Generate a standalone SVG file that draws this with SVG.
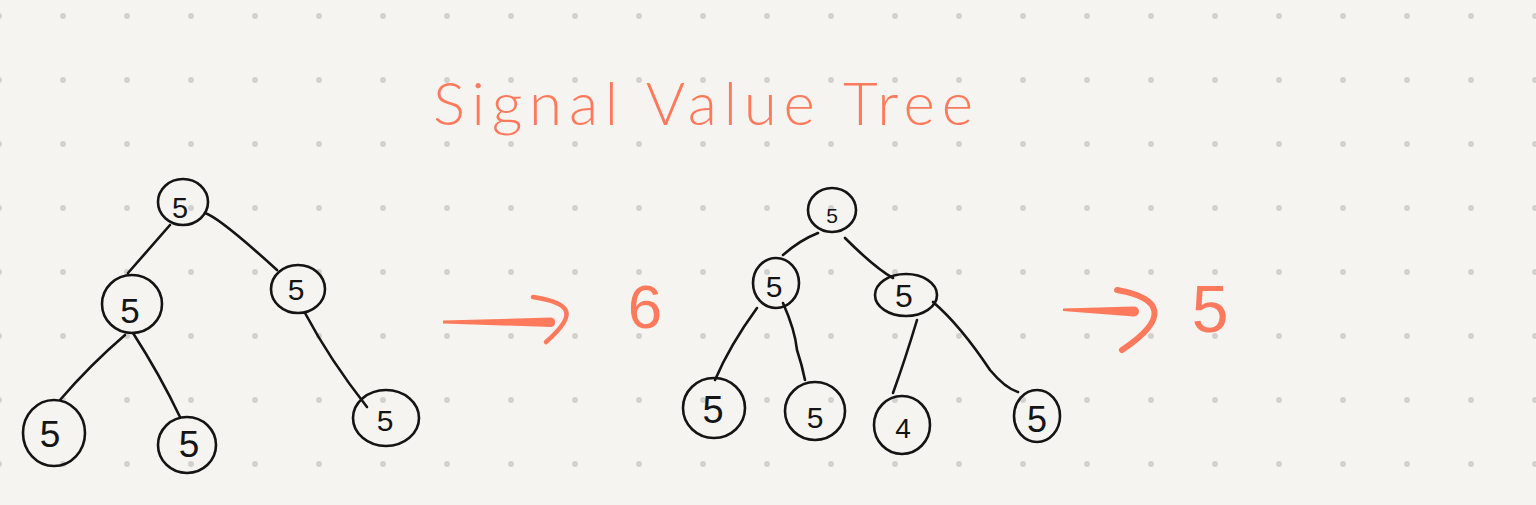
<svg xmlns="http://www.w3.org/2000/svg" width="1536" height="505" viewBox="0 0 1536 505">
<style>
.ring{fill:none;stroke:#141414;stroke-width:2.6}
.edge{fill:none;stroke:#141414;stroke-width:2.6;stroke-linecap:round}
.num{font-family:"Liberation Sans",Arial,sans-serif;fill:#141414;text-anchor:middle}
.accent{fill:#ff7a5c}
.accstroke{fill:none;stroke:#ff7a5c;stroke-linecap:round;stroke-linejoin:round}
.big{font-family:"Liberation Sans",Arial,sans-serif;fill:#ff7a5c;text-anchor:middle}
.title{font-family:Lato,"Liberation Sans",sans-serif;font-weight:300;fill:#ff7a5c}
</style>
<defs>
<pattern id="dots" width="64" height="64" patternUnits="userSpaceOnUse" x="31" y="-16">
<circle cx="32" cy="32" r="3" fill="#d3d1cd"/>
</pattern>
</defs>
<rect width="1536" height="505" fill="#f5f4f0"/>
<rect width="1536" height="505" fill="url(#dots)"/>

<g id="title">
<text class="title" x="433" y="125" font-size="60" textLength="540" lengthAdjust="spacing">Signal Value Tree</text>
</g>

<g id="connectors">
<!-- left tree -->
<path class="edge" d="M170,225 L128,273"/>
<path class="edge" d="M205,213 Q220,218 277,270"/>
<path class="edge" d="M125,335 Q90,365 60,400"/>
<path class="edge" d="M133,333 Q160,375 180,417"/>
<path class="edge" d="M305,313 Q330,360 367,407"/>
<!-- right tree -->
<path class="edge" d="M818,233 Q800,240 783,255"/>
<path class="edge" d="M845,238 Q875,268 893,278"/>
<path class="edge" d="M757,308 Q730,345 715,380"/>
<path class="edge" d="M783,303 Q795,330 797,350 Q802,365 805,380"/>
<path class="edge" d="M917,320 Q905,360 893,393"/>
<path class="edge" d="M933,302 Q960,325 990,370 Q1005,388 1018,392"/>
<!-- arrows -->
<g id="arrow1">
<path class="accent" d="M443,320.6 L551,317.5 A4.8,4.8 0 0 1 551,327 L443,323.4 Z"/>
<path class="accstroke" stroke-width="4.5" d="M533,297 C572,303 578,314 546,342"/>
</g>
<g id="arrow2">
<path class="accent" d="M1063,308.5 L1134,306.5 A5,5 0 0 1 1134,316.5 L1063,311 Z"/>
<path class="accstroke" stroke-width="6" d="M1117,290 C1162,298 1170,318 1122,350"/>
</g>
</g>

<!-- left tree nodes -->
<g id="L-root"><ellipse class="ring" cx="183" cy="202" rx="25" ry="23"/><text class="num" x="180" y="218" font-size="29">5</text></g>
<g id="L-left"><ellipse class="ring" cx="132" cy="304" rx="30" ry="29"/><text class="num" x="130" y="323" font-size="35">5</text></g>
<g id="L-right"><ellipse class="ring" cx="298" cy="289" rx="27" ry="24"/><text class="num" x="296" y="300" font-size="30">5</text></g>
<g id="L-left-left"><ellipse class="ring" cx="54" cy="433" rx="31" ry="33"/><text class="num" x="50" y="447" font-size="37">5</text></g>
<g id="L-left-right"><ellipse class="ring" cx="187" cy="445" rx="29" ry="28"/><text class="num" x="189" y="457" font-size="37">5</text></g>
<g id="L-right-right"><ellipse class="ring" cx="386" cy="418" rx="33" ry="28"/><text class="num" x="385" y="431" font-size="30">5</text></g>

<!-- right tree nodes -->
<g id="R-root"><ellipse class="ring" cx="832" cy="210" rx="24" ry="22"/><text class="num" x="832" y="223" font-size="21">5</text></g>
<g id="R-left"><ellipse class="ring" cx="776" cy="283" rx="23" ry="25"/><text class="num" x="774" y="297" font-size="30">5</text></g>
<g id="R-right"><ellipse class="ring" cx="906" cy="295" rx="31" ry="21"/><text class="num" x="904" y="307" font-size="32">5</text></g>
<g id="R-left-left"><ellipse class="ring" cx="714" cy="408" rx="31" ry="30"/><text class="num" x="713" y="423" font-size="38">5</text></g>
<g id="R-left-right"><ellipse class="ring" cx="815" cy="411" rx="30" ry="29"/><text class="num" x="815" y="428" font-size="30">5</text></g>
<g id="R-right-left"><ellipse class="ring" cx="902" cy="425" rx="28" ry="29"/><text class="num" x="903" y="438" font-size="28">4</text></g>
<g id="R-right-right"><ellipse class="ring" cx="1037" cy="416" rx="23" ry="26"/><text class="num" x="1037" y="432" font-size="36">5</text></g>

<g id="result1"><text class="big" x="645" y="328" font-size="62">6</text></g>
<g id="result2"><text class="big" x="1210" y="332" font-size="66">5</text></g>
</svg>
